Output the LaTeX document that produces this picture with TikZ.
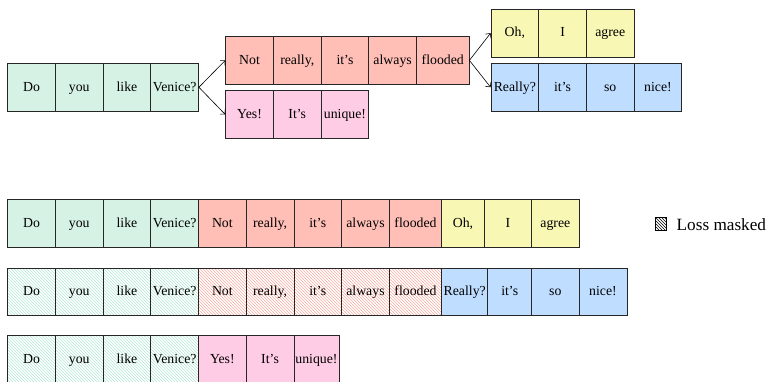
\documentclass[tikz,border=0pt]{standalone}
\usepackage{fontspec}
\setmainfont{Liberation Serif}[Ligatures=TeX]
\usetikzlibrary{patterns,arrows.meta}
\definecolor{gfill}{RGB}{214,242,229}
\definecolor{rfill}{RGB}{255,191,183}
\definecolor{pfill}{RGB}{255,204,230}
\definecolor{yfill}{RGB}{248,247,180}
\definecolor{bfill}{RGB}{191,222,255}
\definecolor{ghatch}{RGB}{178,229,210}
\definecolor{rhatch}{RGB}{250,172,162}
\tikzset{
  cell/.style={draw=black!85, line width=0.8pt, inner sep=0pt, minimum height=47.5pt,
    minimum width=47.7pt, text height=10pt, text depth=2.4pt,
    font=\fontsize{13.8}{16}\selectfont},
  green/.style={cell, fill=gfill},
  red/.style={cell, fill=rfill},
  pink/.style={cell, fill=pfill},
  yellow/.style={cell, fill=yfill},
  blue/.style={cell, fill=bfill},
  ghat/.style={cell, pattern=north west lines, pattern color=ghatch},
  rhat/.style={cell, pattern=north west lines, pattern color=rhatch},
  branch/.style={-{Straight Barb[length=3.5pt,width=7pt]}, line width=0.6pt},
}
\begin{document}
\begin{tikzpicture}[x=1pt,y=-1pt]
\useasboundingbox (0,0) rectangle (767,381);
% ---- top tree ----
\node[green] (tg1) at (31.55,87.25) {Do};
\node[green] (tg2) at (79.25,87.25) {you};
\node[green] (tg3) at (126.95,87.25) {like};
\node[green] (tg4) at (174.65,87.25) {Venice?};
\node[red] (tr1) at (249.55,60.35) {Not};
\node[red] (tr2) at (297.25,60.35) {really,};
\node[red] (tr3) at (344.95,60.35) {it's};
\node[red] (tr4) at (392.65,60.35) {always};
\node[red, minimum width=52.5pt] (tr5) at (442.75,60.35) {flooded};
\node[pink] (tp1) at (249.55,114.5) {Yes!};
\node[pink] (tp2) at (297.25,114.5) {It's};
\node[pink] (tp3) at (344.95,114.5) {unique!};
\node[yellow] (ty1) at (514.85,33.15) {Oh,};
\node[yellow] (ty2) at (562.55,33.15) {I};
\node[yellow] (ty3) at (610.25,33.15) {agree};
\node[blue] (tb1) at (514.85,87.25) {Really?};
\node[blue] (tb2) at (562.55,87.25) {it's};
\node[blue] (tb3) at (610.25,87.25) {so};
\node[blue] (tb4) at (657.95,87.25) {nice!};
\draw[branch] (tg4.east) -- (tr1.west);
\draw[branch] (tg4.east) -- (tp1.west);
\draw[branch] (tr5.east) -- (ty1.west);
\draw[branch] (tr5.east) -- (tb1.west);
% ---- row 1 ----
\node[green] (a1) at (31.55,223.2) {Do};
\node[green] (a2) at (79.25,223.2) {you};
\node[green] (a3) at (126.95,223.2) {like};
\node[green] (a4) at (174.65,223.2) {Venice?};
\node[red] (a5) at (222.35,223.2) {Not};
\node[red] (a6) at (270.05,223.2) {really,};
\node[red] (a7) at (317.75,223.2) {it's};
\node[red] (a8) at (365.45,223.2) {always};
\node[red, minimum width=52.4pt] (a9) at (415.5,223.2) {flooded};
\node[yellow, minimum width=42.6pt] (a10) at (463,223.2) {Oh,};
\node[yellow, minimum width=47.4pt] (a11) at (508,223.2) {I};
\node[yellow, minimum width=47.3pt] (a12) at (555.35,223.2) {agree};
% ---- row 2 ----
\node[ghat] (b1) at (31.55,292) {Do};
\node[ghat] (b2) at (79.25,292) {you};
\node[ghat] (b3) at (126.95,292) {like};
\node[ghat] (b4) at (174.65,292) {Venice?};
\node[rhat] (b5) at (222.35,292) {Not};
\node[rhat] (b6) at (270.05,292) {really,};
\node[rhat] (b7) at (317.75,292) {it's};
\node[rhat] (b8) at (365.45,292) {always};
\node[rhat, minimum width=52.4pt] (b9) at (415.5,292) {flooded};
\node[blue, minimum width=46pt] (b10) at (464.7,292) {Really?};
\node[blue, minimum width=44pt] (b11) at (509.7,292) {it's};
\node[blue, minimum width=47.3pt] (b12) at (555.35,292) {so};
\node[blue, minimum width=48pt] (b13) at (603,292) {nice!};
% ---- row 3 ----
\node[ghat] (c1) at (31.55,359.5) {Do};
\node[ghat] (c2) at (79.25,359.5) {you};
\node[ghat] (c3) at (126.95,359.5) {like};
\node[ghat] (c4) at (174.65,359.5) {Venice?};
\node[pink] (c5) at (222.35,359.5) {Yes!};
\node[pink] (c6) at (270.05,359.5) {It's};
\node[pink, minimum width=45.1pt] (c7) at (316.45,359.5) {unique!};
% ---- legend ----
\node[draw=black, line width=0.6pt, inner sep=0pt, minimum width=11pt, minimum height=13pt,
  pattern=north west lines, pattern color=black] (lsq) at (660.5,224) {};
\node[anchor=west, inner sep=0pt, font=\fontsize{17.2}{20}\selectfont] (ltx) at (676.5,224.5) {Loss masked};
\end{tikzpicture}
\end{document}
